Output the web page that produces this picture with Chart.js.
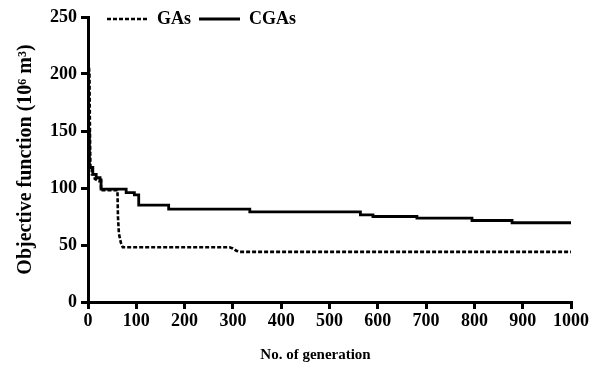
<!DOCTYPE html>
<html>
<head>
<meta charset="utf-8">
<script src="https://cdn.jsdelivr.net/npm/chart.js@4/dist/chart.umd.min.js"></script>
<style>
  html, body { margin: 0; padding: 0; background: #fff; }
  #wrap { width: 602px; height: 369px; }
</style>
</head>
<body>
<div id="wrap"><canvas id="c" width="602" height="369"></canvas></div>
<script>
// ---- data ----
const seriesNames = ['GAs', 'CGAs'];
const xTickLabels = [0, 100, 200, 300, 400, 500, 600, 700, 800, 900, 1000];
const yTickLabels = [0, 50, 100, 150, 200, 250];

const gaGen = [0, 3, 4, 5, 8, 8, 14, 14, 22, 27, 27, 61, 62, 64, 68, 72, 293, 300, 307, 314, 1000];
const gaVal = [216, 200, 150, 118, 118, 112, 112, 108, 106, 106, 98, 98, 75, 60, 52, 48, 48, 47, 45, 44, 44];

const cgaGen = [0, 1, 3, 10, 17, 25, 27, 79, 96, 105, 167, 335, 564, 590, 681, 795, 878, 1000];
const cgaVal = [210, 150, 118, 112, 109, 107, 99, 96, 94, 85, 81.5, 79, 76.5, 75, 73.5, 71.5, 69.5, 69.5];

const xTitle = 'No. of generation';
const yTitle = 'Objective function (10\u2076 m\u00B3)';

// ---- build ----
const toPts = (xs, ys) => xs.map((x, i) => ({ x: x, y: ys[i] }));
const FONT = "'Liberation Serif', 'Times New Roman', serif";

const legendPlace = {
  id: 'legendPlace',
  afterLayout(chart) {
    const lg = chart.legend;
    if (!lg) return;
    const pad = lg.options.labels.padding;
    const fs = lg.options.labels.font.size;
    const newLeft = 107 - pad;
    const newTop = 19 - pad - fs / 2;
    const dx = newLeft - lg.left, dy = newTop - lg.top;
    lg.left += dx; lg.right += dx; lg.top += dy;
    lg.bottom = lg.top + 40;
  },
  beforeDraw(chart) {
    const sx = chart.scales.x;
    if (sx && !sx._titleShifted) {
      const orig = sx.drawTitle;
      sx.drawTitle = function () {
        const ctx = this.ctx;
        ctx.save();
        ctx.translate(-14, 0);
        orig.call(this);
        ctx.restore();
      };
      sx._titleShifted = true;
    }
  }
};

new Chart(document.getElementById('c'), {
  type: 'line',
  data: {
    datasets: [
      {
        label: seriesNames[0],
        data: toPts(gaGen, gaVal),
        borderColor: '#000',
        backgroundColor: '#000',
        borderWidth: 2.6,
        borderDash: [4, 2],
        pointRadius: 0,
        tension: 0,
        fill: false
      },
      {
        label: seriesNames[1],
        data: toPts(cgaGen, cgaVal),
        borderColor: '#000',
        backgroundColor: '#000',
        borderWidth: 2.8,
        stepped: 'before',
        pointRadius: 0,
        tension: 0,
        fill: false
      }
    ]
  },
  options: {
    responsive: false,
    animation: false,
    devicePixelRatio: 1,
    layout: { padding: { left: 0, right: 31, top: 0, bottom: 0 } },
    plugins: {
      tooltip: { enabled: false },
      legend: {
        display: true,
        position: 'top',
        align: 'start',
        maxHeight: 17,
        labels: {
          usePointStyle: true,
          pointStyle: 'line',
          pointStyleWidth: 41,
          boxWidth: 41,
          padding: 8,
          color: '#000',
          font: { family: FONT, size: 18, weight: 'bold' },
          generateLabels: (chart) => chart.data.datasets.map((ds, i) => ({
            text: ds.label,
            fillStyle: '#000',
            strokeStyle: '#000',
            fontColor: '#000',
            lineWidth: ds.borderWidth,
            lineDash: ds.borderDash || [],
            lineCap: 'butt',
            pointStyle: 'line',
            hidden: false,
            datasetIndex: i
          }))
        }
      }
    },
    scales: {
      x: {
        type: 'linear',
        min: 0,
        max: 1000,
        afterFit: (s) => { s.height = 67; },
        afterBuildTicks: (s) => { s.ticks = xTickLabels.map(v => ({ value: v })); },
        ticks: {
          color: '#000',
          padding: 2,
          maxRotation: 0,
          autoSkip: false,
          callback: (v) => String(v),
          font: { family: FONT, size: 18, weight: 'bold' }
        },
        grid: {
          display: true,
          drawOnChartArea: false,
          drawTicks: true,
          tickLength: 7,
          tickWidth: 3,
          tickColor: '#000',
          lineWidth: 3,
          color: '#000'
        },
        border: { display: true, width: 3, color: '#000' },
        title: {
          display: true,
          text: xTitle,
          color: '#000',
          padding: { top: 0, bottom: 5 },
          font: { family: FONT, size: 15, weight: 'bold' }
        }
      },
      y: {
        type: 'linear',
        min: 0,
        max: 250,
        afterFit: (s) => { s.width = 88; },
        afterBuildTicks: (s) => { s.ticks = yTickLabels.map(v => ({ value: v })); },
        ticks: {
          color: '#000',
          padding: 4,
          autoSkip: false,
          callback: (v) => String(v),
          font: { family: FONT, size: 18, weight: 'bold' }
        },
        grid: {
          display: true,
          drawOnChartArea: false,
          drawTicks: true,
          tickLength: 7,
          tickWidth: 3,
          tickColor: '#000',
          lineWidth: 3,
          color: '#000'
        },
        border: { display: true, width: 3, color: '#000' },
        title: {
          display: true,
          text: yTitle,
          color: '#000',
          padding: { top: 14, bottom: 0 },
          font: { family: FONT, size: 20, weight: 'bold' }
        }
      }
    }
  },
  plugins: [legendPlace]
});
</script>
</body>
</html>
